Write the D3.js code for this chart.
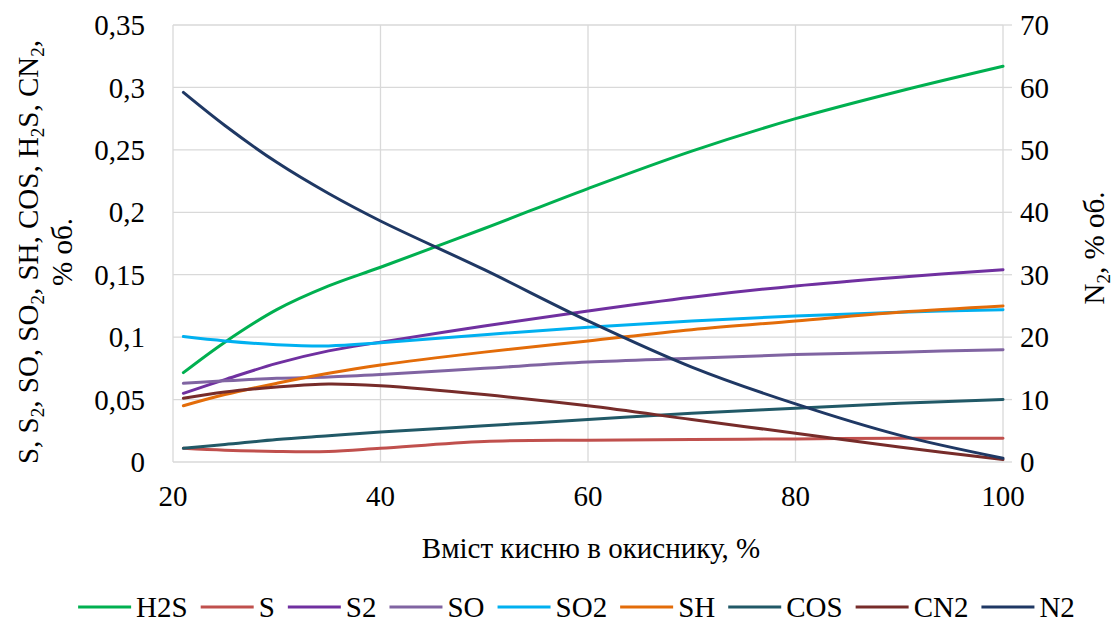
<!DOCTYPE html>
<html><head><meta charset="utf-8">
<script src="https://cdn.jsdelivr.net/npm/d3@7"></script>
<style>body{margin:0;background:#fff}svg{display:block}</style>
</head><body><svg id="c" width="1113" height="623"></svg>
<script>
const oxygen = [21, 25, 30, 35, 40, 50, 60, 70, 80, 90, 100];
const H2S = [0.0716, 0.096, 0.122, 0.141, 0.156, 0.187, 0.219, 0.249, 0.275, 0.297, 0.317];
const S   = [0.011, 0.0095, 0.0085, 0.0085, 0.011, 0.0165, 0.0175, 0.018, 0.0185, 0.019, 0.019];
const S2  = [0.055, 0.066, 0.079, 0.089, 0.096, 0.109, 0.121, 0.132, 0.141, 0.148, 0.154];
const SO  = [0.063, 0.065, 0.067, 0.068, 0.070, 0.075, 0.080, 0.083, 0.086, 0.088, 0.090];
const SO2 = [0.1005, 0.097, 0.094, 0.093, 0.0955, 0.102, 0.108, 0.113, 0.117, 0.120, 0.122];
const SH  = [0.045, 0.054, 0.063, 0.071, 0.0777, 0.088, 0.097, 0.106, 0.113, 0.120, 0.125];
const COS = [0.011, 0.014, 0.018, 0.021, 0.024, 0.029, 0.034, 0.039, 0.043, 0.047, 0.050];
const CN2 = [0.051, 0.056, 0.060, 0.0625, 0.061, 0.054, 0.045, 0.034, 0.023, 0.012, 0.002];
const N2  = [59.2, 53.9, 48.0, 43.0, 38.6, 30.8, 22.6, 15.2, 9.3, 4.3, 0.6];
const seriesNames = ["H2S", "S", "S2", "SO", "SO2", "SH", "COS", "CN2", "N2"];
const seriesColors = ["#00b050", "#c0504d", "#7030a0", "#8064a2", "#00b0f0", "#e36c09", "#215967", "#772c2a", "#1f3864"];
const seriesData = [H2S, S, S2, SO, SO2, SH, COS, CN2, N2];
const xTicks = [20, 40, 60, 80, 100];
const yLeftTicks = [0, 0.05, 0.1, 0.15, 0.2, 0.25, 0.3, 0.35];
const yRightTicks = [0, 10, 20, 30, 40, 50, 60, 70];
const xTitle = "Вміст кисню в окиснику, %";

const FONT = "Liberation Serif";
const svg = d3.select("#c");
const L = 173, R = 1003, T = 25, B = 462;
const x = d3.scaleLinear().domain([20, 100]).range([L, R]);
const yL = d3.scaleLinear().domain([0, 0.35]).range([B, T]);
const yR = d3.scaleLinear().domain([0, 70]).range([B, T]);
const grid = "#d9d9d9";
const FS = 29;

svg.append("g").selectAll("line").data(yLeftTicks).join("line")
  .attr("x1", L).attr("x2", R).attr("y1", d => yL(d)).attr("y2", d => yL(d))
  .attr("stroke", grid).attr("stroke-width", 1.3);
svg.append("g").selectAll("line").data(xTicks).join("line")
  .attr("x1", d => x(d)).attr("x2", d => x(d)).attr("y1", T).attr("y2", B)
  .attr("stroke", grid).attr("stroke-width", 1.3);
svg.append("g").selectAll("line").data(yRightTicks).join("line")
  .attr("x1", R).attr("x2", R + 9).attr("y1", d => yR(d)).attr("y2", d => yR(d))
  .attr("stroke", grid).attr("stroke-width", 1.3);

const fmt = d => String(+d.toFixed(2)).replace(".", ",");
svg.append("g").selectAll("text").data(yLeftTicks).join("text")
  .attr("x", 145).attr("y", d => yL(d)).attr("dy", "0.35em").attr("text-anchor", "end")
  .attr("font-size", FS).text(fmt);
svg.append("g").selectAll("text").data(yRightTicks).join("text")
  .attr("x", 1020).attr("y", d => yR(d)).attr("dy", "0.35em").attr("text-anchor", "start")
  .attr("font-size", FS).text(d => d);
svg.append("g").selectAll("text").data(xTicks).join("text")
  .attr("x", d => x(d)).attr("y", 506).attr("text-anchor", "middle")
  .attr("font-size", FS).text(d => d);

svg.append("text").attr("x", (L + R) / 2 + 3).attr("y", 558).attr("text-anchor", "middle")
  .attr("font-size", FS).text(xTitle);

function richText(sel, parts) {
  let shifted = false;
  parts.forEach(p => {
    if (typeof p === "string") {
      const t = sel.append("tspan").text(p);
      if (shifted) { t.attr("dy", -6); shifted = false; }
    } else {
      sel.append("tspan").attr("font-size", Math.round(FS * 0.65)).attr("dy", 6).text(p.sub);
      shifted = true;
    }
  });
}
const lt = svg.append("text").attr("transform", "translate(38,252) rotate(-90)")
  .attr("text-anchor", "middle").attr("font-size", FS);
richText(lt, ["S, S", {sub: "2"}, ", SO, SO", {sub: "2"}, ", SH, COS, H", {sub: "2"}, "S, CN", {sub: "2"}, ","]);
svg.append("text").attr("transform", "translate(72,252) rotate(-90)")
  .attr("text-anchor", "middle").attr("font-size", FS).text("% об.");
const rt = svg.append("text").attr("transform", "translate(1104,248) rotate(-90)")
  .attr("text-anchor", "middle").attr("font-size", FS);
richText(rt, ["N", {sub: "2"}, ", % об."]);

const line = d3.line().curve(d3.curveCatmullRom.alpha(0.5));
seriesNames.forEach((n, i) => {
  const ys = n === "N2" ? yR : yL;
  const pts = oxygen.map((o, j) => [x(o), ys(seriesData[i][j])]);
  svg.append("path").attr("d", line(pts)).attr("fill", "none")
    .attr("stroke", seriesColors[i]).attr("stroke-width", 3).attr("stroke-linecap", "round");
});

const lg = svg.append("g");
let cx = 0;
const legendTexts = [];
seriesNames.forEach((n, i) => {
  const g = lg.append("g").attr("transform", `translate(${cx},0)`);
  g.append("line").attr("x1", 0).attr("x2", 53).attr("y1", 0).attr("y2", 0)
    .attr("stroke", seriesColors[i]).attr("stroke-width", 3);
  const t = g.append("text").attr("x", 58).attr("dy", "0.35em").attr("font-size", FS)
    .style("font-family", FONT).text(n);
  const w = t.node().getComputedTextLength();
  cx += 58 + w + 13;
});
const total = cx - 13;
lg.attr("transform", `translate(${(56 + 1097) / 2 - total / 2},607)`);

svg.selectAll("text").style("font-family", FONT).attr("fill", "#000");
</script></body></html>
